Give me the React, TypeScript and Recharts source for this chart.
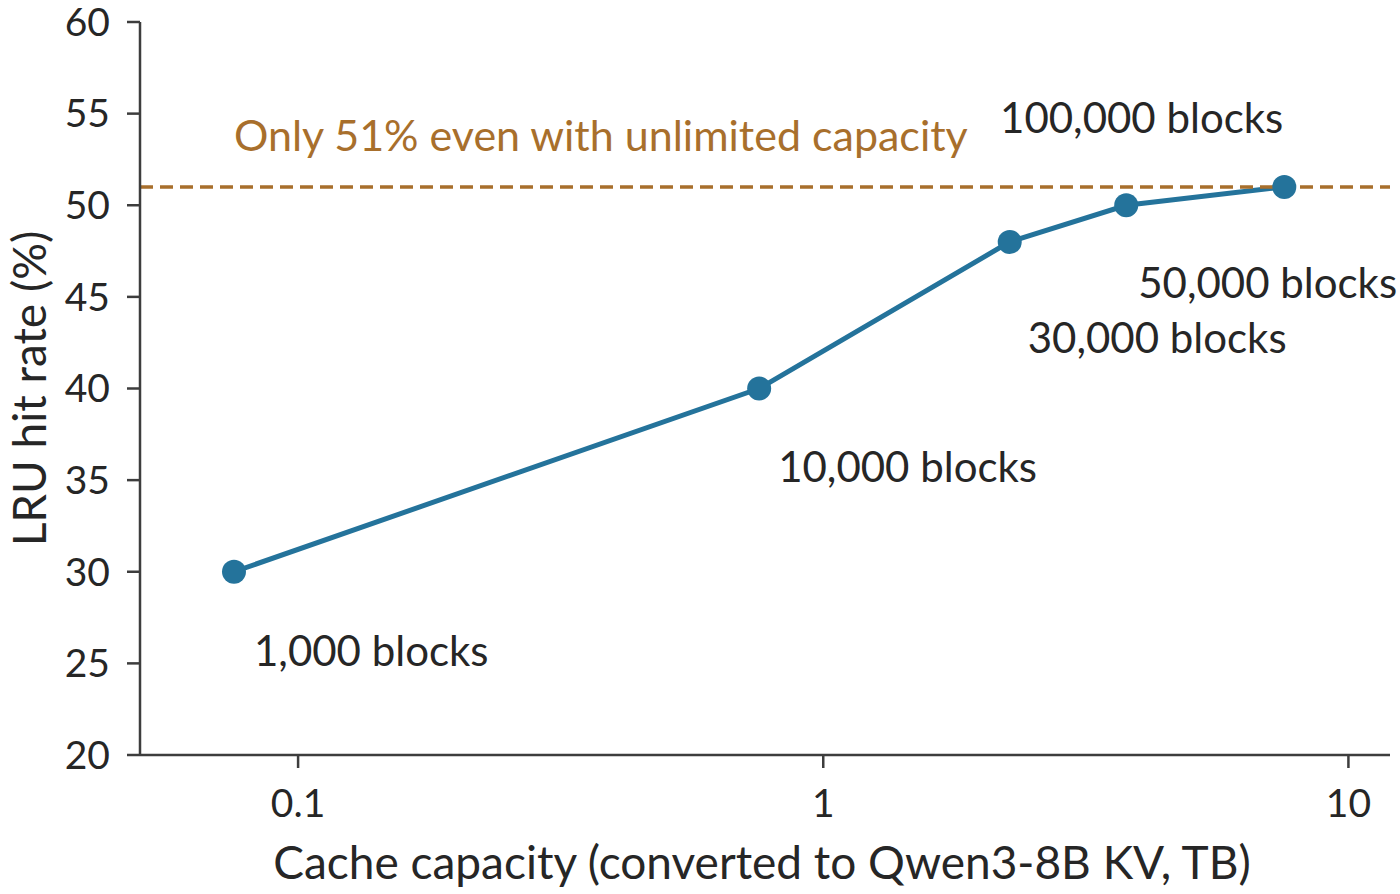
import { LabelList, Line, LineChart, ReferenceDot, ReferenceLine, XAxis, YAxis } from 'recharts';

const blocks = [1000, 10000, 30000, 50000, 100000];
const capacityTB = [0.0755, 0.755, 2.265, 3.775, 7.55];
const hitRate = [30, 40, 48, 50, 51];

const xTicks = [0.1, 1, 10];
const yTicks = [20, 25, 30, 35, 40, 45, 50, 55, 60];

const unlimitedRate = 51;
const noteText = 'Only 51% even with unlimited capacity';

// label offsets (px) from each point, same order as blocks
const labelPlacement = [
  { dx: 20, dy: 78, anchor: 'start' },
  { dx: 19, dy: 77, anchor: 'start' },
  { dx: 18, dy: 95, anchor: 'start' },
  { dx: 12, dy: 77, anchor: 'start' },
  { dx: -1, dy: -70, anchor: 'end' },
];

const BLUE = '#24739b';
const BROWN = '#a86f2c';
const INK = '#262626';
const AXIS = '#3d3d3d';
const FONT = 'Lato, sans-serif';

const data = blocks.map((b, i) => ({
  blocks: b,
  capacity: capacityTB[i],
  hitRate: hitRate[i],
}));

const BlockLabel = (props: any) => {
  const p = labelPlacement[props.index];
  return (
    <text
      x={props.x + p.dx}
      y={props.y + p.dy}
      textAnchor={p.anchor}
      dominantBaseline="central"
      fontSize={42}
      fontFamily={FONT}
      fill={INK}
    >
      {`${Number(props.value).toLocaleString('en-US')} blocks`}
    </text>
  );
};

const App = () => (
  <div style={{ position: 'absolute', left: 0, top: 0 }}>
    <LineChart
      width={1400}
      height={894}
      data={data}
      margin={{ top: 22, right: 10, left: 0, bottom: 0 }}
    >
      <XAxis
        dataKey="capacity"
        type="number"
        scale="log"
        domain={[0.05, 12]}
        ticks={xTicks}
        allowDataOverflow
        height={139}
        tickSize={13}
        tickMargin={21}
        tickFormatter={(v) => String(v)}
        tick={{ fontSize: 39, fontFamily: FONT, fill: INK }}
        tickLine={{ stroke: AXIS, strokeWidth: 2.5 }}
        axisLine={{ stroke: AXIS, strokeWidth: 2.5 }}
        label={{
          content: ({ viewBox }: any) => (
            <text
              x={viewBox.x + viewBox.width / 2 - 3}
              y={viewBox.y + 106}
              textAnchor="middle"
              dominantBaseline="central"
              fontSize={46}
              fontFamily={FONT}
              fill={INK}
            >
              Cache capacity (converted to Qwen3-8B KV, TB)
            </text>
          ),
        }}
      />
      <YAxis
        type="number"
        domain={[20, 60]}
        ticks={yTicks}
        width={140}
        tickSize={13}
        tickMargin={17}
        tick={{ fontSize: 39, fontFamily: FONT, fill: INK }}
        tickLine={{ stroke: AXIS, strokeWidth: 2.5 }}
        axisLine={{ stroke: AXIS, strokeWidth: 2.5 }}
        label={{
          content: ({ viewBox }: any) => {
            const cx = 28;
            const cy = viewBox.y + viewBox.height / 2;
            return (
              <text
                x={cx}
                y={cy}
                transform={`rotate(-90 ${cx} ${cy})`}
                textAnchor="middle"
                dominantBaseline="central"
                fontSize={46}
                fontFamily={FONT}
                fill={INK}
              >
                LRU hit rate (%)
              </text>
            );
          },
        }}
      />
      <Line
        dataKey="hitRate"
        type="linear"
        stroke={BLUE}
        strokeWidth={5}
        dot={{ r: 12, fill: BLUE, stroke: 'none' }}
        activeDot={false}
        isAnimationActive={false}
      >
        <LabelList dataKey="blocks" content={BlockLabel} />
      </Line>
      <ReferenceLine
        y={unlimitedRate}
        stroke={BROWN}
        strokeWidth={3.5}
        strokeDasharray="13 7"
      />
      <ReferenceDot
        x={capacityTB[0]}
        y={unlimitedRate}
        r={0}
        shape={(p: any) => (
          <text
            x={p.cx}
            y={p.cy - 52}
            textAnchor="start"
            dominantBaseline="central"
            fontSize={43}
            fontFamily={FONT}
            fill={BROWN}
          >
            {noteText}
          </text>
        )}
      />
    </LineChart>
  </div>
);

export default App;
